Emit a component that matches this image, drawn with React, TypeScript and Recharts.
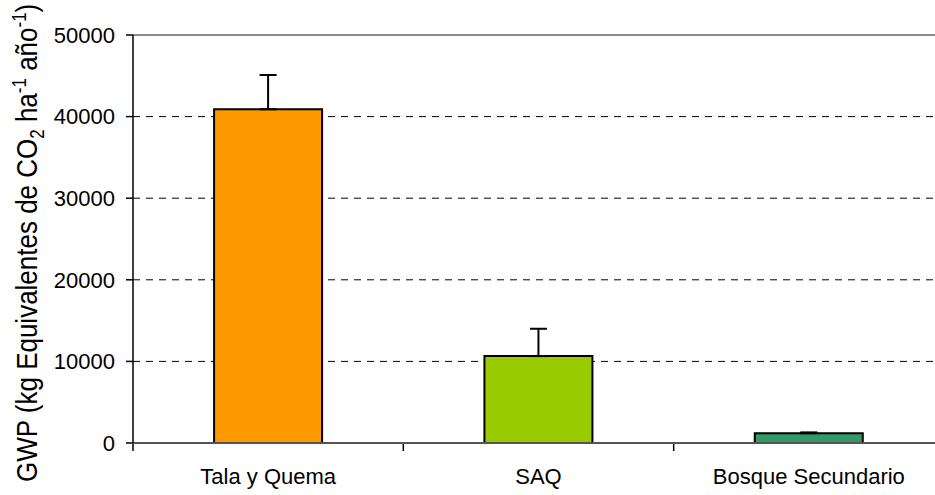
import React from "react";
import {
  BarChart,
  Bar,
  XAxis,
  YAxis,
  CartesianGrid,
  ErrorBar,
  ReferenceLine,
  Cell,
} from "recharts";

const categories = ["Tala y Quema", "SAQ", "Bosque Secundario"];
const gwpValues = [40900, 10650, 1200];
const gwpErrors = [4200, 3350, 100];
const barColors = ["#FF9900", "#99CC00", "#339966"];
const yTicks = [0, 10000, 20000, 30000, 40000, 50000];
const frameTicks = [0, 1, 2, 3];

const FONT = "'Liberation Sans', Arial, sans-serif";

const data = categories.map((name, i) => ({
  name,
  gwp: gwpValues[i],
  // only the upper whisker is drawn in the original
  err: [0, gwpErrors[i]],
  pos: i + 0.5,
}));

const AxisTitle = () => (
  <text
    x={0}
    y={0}
    transform="translate(37 482) rotate(-90) scale(1 1.15)"
    fontSize={26}
    fontFamily={FONT}
    fill="#000"
  >
    GWP (kg Equivalentes de CO
    <tspan dy={6} fontSize={17}>2</tspan>
    <tspan dy={-6}> ha</tspan>
    <tspan dy={-10} fontSize={17}>-1</tspan>
    <tspan dy={10}> año</tspan>
    <tspan dy={-10} fontSize={17}>-1</tspan>
    <tspan dy={10}>)</tspan>
  </text>
);

export default function App() {
  return (
    <div
      style={{
        position: "absolute",
        left: 0,
        top: 0,
        width: 935,
        height: 495,
        overflow: "hidden",
        background: "#fff",
      }}
    >
      <BarChart
        width={944}
        height={495}
        data={data}
        margin={{ top: 35, right: 0, bottom: 0, left: 0 }}
        barCategoryGap="30%"
      >
        <CartesianGrid
          vertical={false}
          stroke="#000"
          strokeDasharray="7 6"
        />
        <ReferenceLine y={50000} stroke="#888" strokeWidth={2} />
        <ReferenceLine y={0} stroke="#555" strokeWidth={2} />
        {/* category labels sit on a 1px axis right under the plot */}
        <XAxis
          dataKey="name"
          height={1}
          axisLine={false}
          tickLine={false}
          tickSize={0}
          tickMargin={25}
          tick={{ fill: "#000", fontSize: 22, fontFamily: FONT }}
        />
        {/* numeric helper axis: ticks between categories */}
        <XAxis
          xAxisId="frame"
          dataKey="pos"
          type="number"
          domain={[0, 3]}
          ticks={frameTicks}
          height={51}
          allowDataOverflow
          axisLine={false}
          tickLine={{ stroke: "#000", strokeWidth: 1.5 }}
          tickSize={7}
          tick={() => <g />}
        />
        <YAxis
          width={133}
          domain={[0, 50000]}
          ticks={yTicks}
          interval={0}
          axisLine={{ stroke: "#000", strokeWidth: 1.5 }}
          tickLine={{ stroke: "#000", strokeWidth: 1.5 }}
          tickSize={7}
          tickMargin={11}
          tick={{ fill: "#000", fontSize: 22, fontFamily: FONT }}
          label={<AxisTitle />}
        />
        <Bar
          dataKey="gwp"
          stroke="#000"
          strokeWidth={2}
          isAnimationActive={false}
        >
          {data.map((d, i) => (
            <Cell key={d.name} fill={barColors[i]} />
          ))}
          <ErrorBar
            dataKey="err"
            direction="y"
            width={8.5}
            stroke="#000"
            strokeWidth={2}
            isAnimationActive={false}
          />
        </Bar>
      </BarChart>
    </div>
  );
}
